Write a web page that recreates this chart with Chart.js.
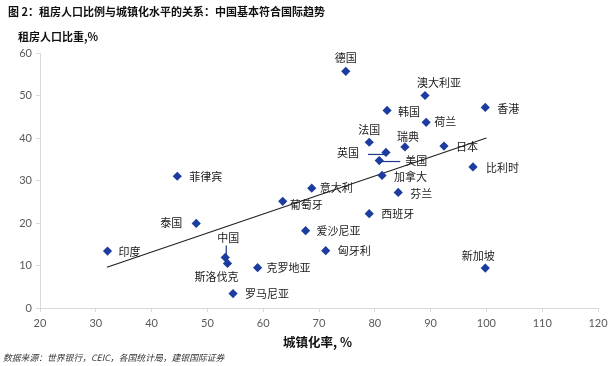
<!DOCTYPE html>
<html>
<head>
<meta charset="utf-8">
<script src="https://cdn.jsdelivr.net/npm/chart.js@4.4.0/dist/chart.umd.min.js"></script>
<style>
html,body{margin:0;padding:0;background:#fff;}
#wrap{position:relative;width:616px;height:366px;overflow:hidden;font-family:"Noto Sans CJK SC","Noto Sans",sans-serif;}
#c{position:absolute;left:0;top:0;}
.txt{position:absolute;white-space:nowrap;color:#111;}
#title{left:8px;top:3px;font-size:11px;font-weight:bold;}
#ytitle{left:18px;top:28px;font-size:11px;font-weight:bold;}
#xtitle{left:283px;top:332px;font-size:12.5px;font-weight:bold;}
#src{left:3px;top:351px;font-size:8.8px;font-style:italic;color:#333;}
</style>
</head>
<body>
<div id="wrap">
  <canvas id="c" width="616" height="366"></canvas>
  <div class="txt" id="title">图 2：租房人口比例与城镇化水平的关系：中国基本符合国际趋势</div>
  <div class="txt" id="ytitle">租房人口比重,%</div>
  <div class="txt" id="xtitle">城镇化率, %</div>
  <div class="txt" id="src">数据来源：世界银行，CEIC，各国统计局，建银国际证券</div>
</div>
<script>
// data
const countries = ['德国','澳大利亚','香港','韩国','荷兰','法国','瑞典','日本','英国','美国','比利时','加拿大','芬兰',
  '菲律宾','意大利','葡萄牙','西班牙','泰国','爱沙尼亚','匈牙利','印度','中国','斯洛伐克','克罗地亚','罗马尼亚','新加坡'];
const urbanRate = [74.8,89.0,99.8,82.2,89.2,79.0,85.4,92.4,82.0,80.8,97.6,81.3,84.2,
  44.6,68.7,63.5,79.0,48.0,67.6,71.2,32.1,53.2,53.6,59.0,54.6,99.8];
const rentShare = [55.7,50.0,47.2,46.5,43.7,39.0,37.9,38.1,36.6,34.7,33.2,31.2,27.2,
  31.0,28.2,25.1,22.2,19.9,18.2,13.5,13.4,11.9,10.5,9.5,3.4,9.4];
const trendX = [32, 100];
const trendY = [9.6, 40];
const xTicks = [20,30,40,50,60,70,80,90,100,110,120];
const yTicks = [0,10,20,30,40,50,60];

// label placement (px offsets from the marker)
const labelPos = {
  '德国':[0,-13,'center'],'澳大利亚':[14,-13,'center'],'香港':[12,1,'left'],'韩国':[11,1,'left'],
  '荷兰':[8,0,'left'],'法国':[0,-12,'center'],'瑞典':[3,-10,'center'],'日本':[12,1,'left'],
  '英国':[-27,0,'right'],'美国':[26,0,'left'],'比利时':[13,1,'left'],'加拿大':[12,1,'left'],
  '芬兰':[12,1,'left'],'菲律宾':[12,1,'left'],'意大利':[8,0,'left'],'葡萄牙':[7,3,'left'],
  '西班牙':[12,0,'left'],'泰国':[-14,-1,'right'],'爱沙尼亚':[11,0,'left'],'匈牙利':[12,0,'left'],
  '印度':[11,1,'left'],'中国':[3,-20,'center'],'斯洛伐克':[-11,13,'center'],'克罗地亚':[9,0,'left'],
  '罗马尼亚':[12,0,'left'],'新加坡':[-7,-12,'center']
};
const leaders = {'中国':[[1,-12],[1,-2]],'英国':[[-18,2],[0,2]],'美国':[[0,1],[21,1]]};

const pointLabels = {
  id:'pointLabels',
  afterDatasetsDraw(chart){
    const ctx = chart.ctx, pts = chart.getDatasetMeta(0).data;
    ctx.save();
    ctx.strokeStyle = '#1f3a8c'; ctx.lineWidth = 1.2;
    countries.forEach((n,i)=>{
      const l = leaders[n]; if(!l) return;
      const p = pts[i];
      ctx.beginPath(); ctx.moveTo(p.x+l[0][0], p.y+l[0][1]); ctx.lineTo(p.x+l[1][0], p.y+l[1][1]); ctx.stroke();
    });
    ctx.font = '11px "Noto Sans CJK SC"';
    ctx.fillStyle = '#1a1a1a';
    ctx.textBaseline = 'middle';
    countries.forEach((n,i)=>{
      const [dx,dy,al] = labelPos[n]; const p = pts[i];
      ctx.textAlign = al;
      ctx.fillText(n, p.x+dx, p.y+dy);
    });
    ctx.restore();
  }
};

const tickFont = {family:'Lato, "Liberation Sans", sans-serif', size:11};

new Chart(document.getElementById('c'),{
  type:'scatter',
  data:{datasets:[
    {data:urbanRate.map((x,i)=>({x, y:rentShare[i]})), pointStyle:'rectRot', pointRadius:4.6,
      backgroundColor:'#1c3d9f', borderColor:'#1c3d9f', borderWidth:0},
    {data:trendX.map((x,i)=>({x, y:trendY[i]})), showLine:true, pointRadius:0,
      borderColor:'#222', borderWidth:1.2}
  ]},
  options:{
    responsive:false, animation:false,
    layout:{padding:{left:0, top:53, right:18, bottom:30}},
    plugins:{legend:{display:false}, tooltip:{enabled:false}},
    scales:{
      x:{type:'linear', min:20, max:120,
        afterBuildTicks:s=>{s.ticks = xTicks.map(v=>({value:v}));},
        afterFit:s=>{s.height = 28;},
        ticks:{color:'#595959', font:tickFont, padding:5},
        grid:{drawOnChartArea:false, tickLength:4, color:'#d9d9d9'},
        border:{color:'#d9d9d9'}},
      y:{min:0, max:60,
        afterBuildTicks:s=>{s.ticks = yTicks.map(v=>({value:v}));},
        afterFit:s=>{s.width = 40;},
        ticks:{color:'#595959', font:tickFont, padding:4},
        grid:{drawOnChartArea:false, tickLength:4, color:'#d9d9d9'},
        border:{color:'#d9d9d9'}}
    }
  },
  plugins:[pointLabels]
});
</script>
</body>
</html>
